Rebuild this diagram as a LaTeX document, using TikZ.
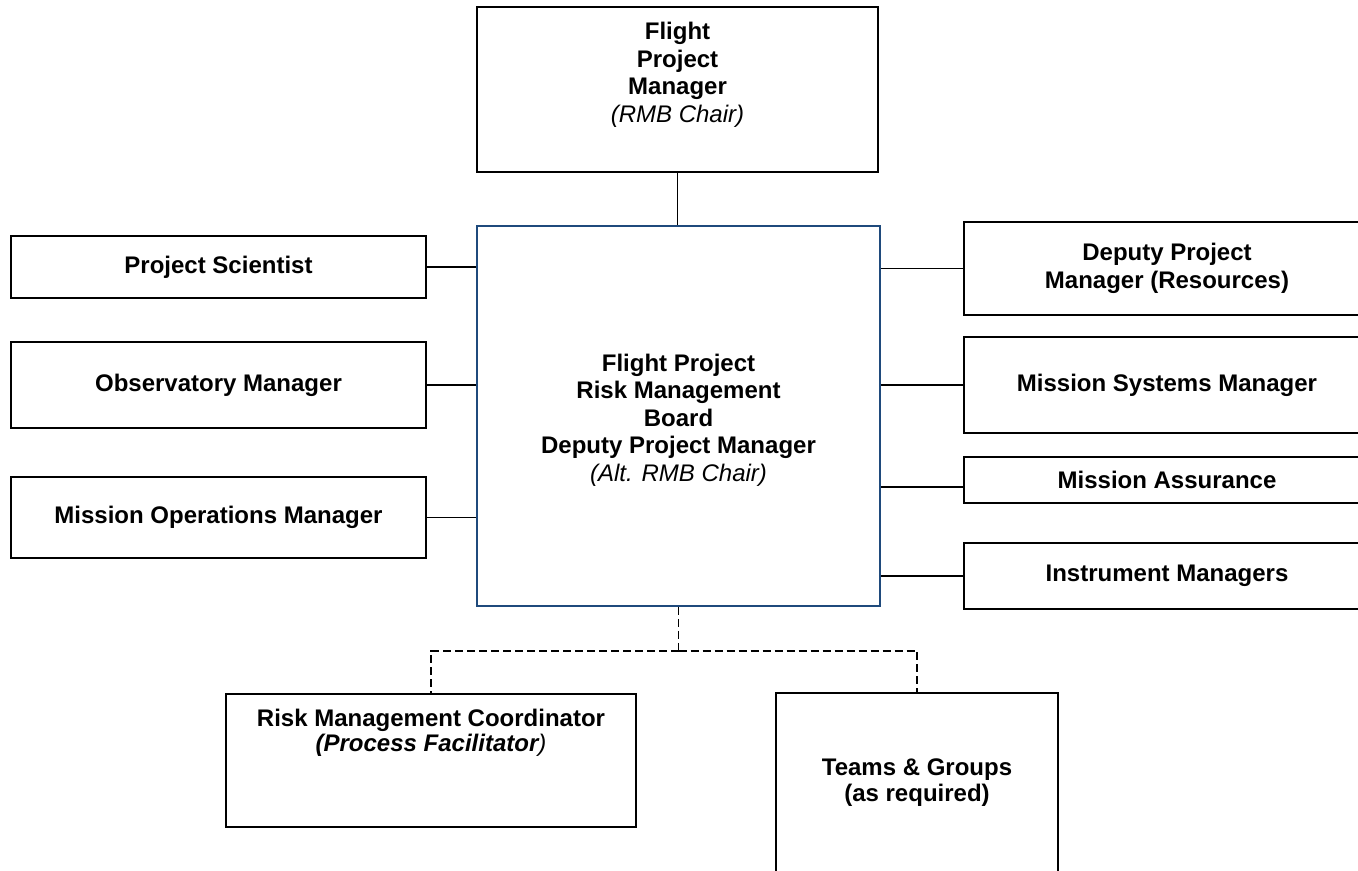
\documentclass[tikz,border=0pt]{standalone}
\usepackage{fontspec}
\setmainfont{Liberation Sans}
\usetikzlibrary{calc}
\definecolor{rmbblue}{HTML}{1F4A7C}
\begin{document}
\begin{tikzpicture}[x=0.5pt,y=-0.5pt,
  txt/.style={font=\fontsize{12}{13.7}\selectfont\bfseries, align=center, inner sep=0pt},
  box/.style n args={2}{draw=black, line width=0.9pt, fill=white, inner sep=0pt,
     minimum width=#1*0.5pt, minimum height=#2*0.5pt, txt},
  conn/.style={draw=black, line width=0.75pt},
  dconn/.style={draw=black, line width=0.75pt, dash pattern=on 4pt off 2pt}]
\useasboundingbox[fill=white] (0,0) rectangle (1358,871);
% boxes
\node[box={401}{165}] (top) at (677.5,89.5) {};
\node[txt, anchor=north] (toptxt) at ($(top.north)+(0,16)$)
  {Flight\\Project\\Manager\\{\normalfont\itshape (RMB Chair)}};
\node[box={403}{380}, draw=rmbblue, line width=0.75pt] (board) at (678.5,416) {};
\node[txt] (boardtxt) at ($(board.center)+(0,4)$)
  {Flight Project\\Risk Management\\Board\\Deputy Project Manager\\{\normalfont\itshape (Alt. RMB Chair)}};
\node[box={415}{62}] (ps) at (218.5,267) {\raisebox{2pt}{Project Scientist}};
\node[box={415}{86}] (om) at (218.5,385) {Observatory Manager};
\node[box={415}{81}] (mom) at (218.5,517.5) {Mission Operations Manager};
\node[box={406}{93}] (dpm) at (1167,268.5) {Deputy Project\\Manager (Resources)};
\node[box={406}{96}] (msm) at (1167,385) {Mission Systems Manager};
\node[box={406}{46}] (ma) at (1167,480) {Mission Assurance};
\node[box={406}{66}] (im) at (1167,576) {Instrument Managers};
\node[box={410}{133}] (risk) at (431,760.5) {};
\node[txt, anchor=north, font=\fontsize{12}{12.6}\selectfont\bfseries] (risktxt) at ($(risk.north)+(0,15.5)$)
  {Risk Management Coordinator\\{\itshape (Process Facilitator}{\normalfont\itshape )}};
\node[box={282}{197}] (teams) at (917,791.5) {};
\node[txt, anchor=north, font=\fontsize{12}{13}\selectfont\bfseries] (teamstxt) at ($(teams.north)+(0,66.5)$)
  {Teams \& Groups\\(as required)};
% connectors
\draw[conn] (top.south) -- (top.south |- board.north);
\draw[conn] (ps.east) -- (ps.east -| board.west);
\draw[conn] (om.east) -- (om.east -| board.west);
\draw[conn] (mom.east) -- (mom.east -| board.west);
\draw[conn] (dpm.west) -- (dpm.west -| board.east);
\draw[conn] (msm.west) -- (msm.west -| board.east);
\coordinate (maj) at ($(ma.west)+(0,7)$);
\draw[conn] (maj) -- (maj -| board.east);
\draw[conn] (im.west) -- (im.west -| board.east);
% dashed links
\coordinate (split) at ($(board.south)+(0,44)$);
\draw[dconn] (board.south) -- (split);
\draw[dconn] (split) -| (risk.north);
\draw[dconn] (split) -| (teams.north);
\end{tikzpicture}
\end{document}
